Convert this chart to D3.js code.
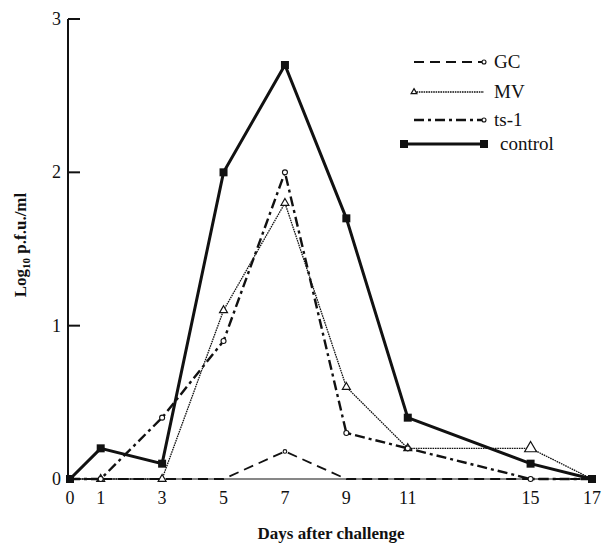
<!DOCTYPE html>
<html>
<head>
<meta charset="utf-8">
<script src="https://cdn.jsdelivr.net/npm/d3@7"></script>
<style>
  body { margin: 0; background: #fff; }
  text { font-family: "Liberation Serif", "DejaVu Serif", serif; fill: #111; }
</style>
</head>
<body>
<script>
const width = 604;
const height = 544;

const days = [0, 1, 3, 5, 7, 9, 11, 15, 17];
const yTicks = [1, 2, 3];

const gc      = [0, 0, 0, 0, 0.18, 0, 0, 0, 0];
const mv      = [0, 0, 0, 1.1, 1.8, 0.6, 0.2, 0.2, 0];
const ts1     = [0, 0, 0.4, 0.9, 2.0, 0.3, 0.2, 0, 0];
const control = [0, 0.2, 0.1, 2.0, 2.7, 1.7, 0.4, 0.1, 0];

const series = [
    { name: "GC", values: gc, dash: "10,6", w: 1.8, marker: "circle", r: 1.8 },
    { name: "MV", values: mv, dash: "1.6,0.8", w: 1.3, marker: "triangle", r: 3 },
    { name: "ts-1", values: ts1, dash: "10,4,3,4", w: 2.4, marker: "circle", r: 2.5 },
    { name: "control", values: control, dash: null, w: 3, marker: "square", r: 4 }
];

const svg = d3.select("body").append("svg")
    .attr("width", width)
    .attr("height", height);

const x = d3.scaleLinear().domain([0, 17]).range([70, 592]);
const y = d3.scaleLinear().domain([0, 3]).range([479, 19]);

// axes
svg.append("line")
    .attr("x1", x(0) - 2).attr("x2", x(0) - 2)
    .attr("y1", y(3)).attr("y2", y(0))
    .style("stroke", "#111").style("stroke-width", 2);

svg.append("line")
    .attr("x1", x(0) - 2).attr("x2", x(17))
    .attr("y1", y(0)).attr("y2", y(0))
    .style("stroke", "#111").style("stroke-width", 1.2);

svg.selectAll(".ytick")
    .data(yTicks)
    .enter().append("line")
    .attr("x1", x(0) - 2).attr("x2", x(0) + 10)
    .attr("y1", d => y(d)).attr("y2", d => y(d))
    .style("stroke", "#111").style("stroke-width", 2);

svg.selectAll(".ylab")
    .data([0].concat(yTicks))
    .enter().append("text")
    .attr("x", x(0) - 9)
    .attr("y", d => y(d) + 6)
    .attr("text-anchor", "end")
    .style("font-size", "18px")
    .text(d => d);

svg.selectAll(".xlab")
    .data(days)
    .enter().append("text")
    .attr("x", d => x(d))
    .attr("y", 504)
    .attr("text-anchor", "middle")
    .style("font-size", "18px")
    .text(d => d);

svg.append("text")
    .attr("x", (x(0) + x(17)) / 2)
    .attr("y", 539)
    .attr("text-anchor", "middle")
    .style("font-size", "17px")
    .style("font-weight", "bold")
    .text("Days after challenge");

const yt = svg.append("text")
    .attr("transform", "translate(26," + 245 + ") rotate(-90)")
    .attr("text-anchor", "middle")
    .style("font-size", "17px")
    .style("font-weight", "bold");
yt.append("tspan").text("Log");
yt.append("tspan").attr("dy", 4).style("font-size", "11px").text("10");
yt.append("tspan").attr("dy", -4).text(" p.f.u./ml");

// lines
const line = d3.line()
    .x(d => x(d[0]))
    .y(d => y(d[1]));

function drawMarker(g, type, cx, cy, r) {
    if (type === "square") {
        g.append("rect")
            .attr("x", cx - r).attr("y", cy - r)
            .attr("width", 2 * r).attr("height", 2 * r)
            .style("fill", "#111");
    } else if (type === "triangle") {
        g.append("path")
            .attr("d", d3.symbol().type(d3.symbolTriangle).size(r * r * 3)())
            .attr("transform", "translate(" + cx + "," + cy + ")")
            .style("fill", "#fff").style("stroke", "#111").style("stroke-width", 1.2);
    } else {
        g.append("circle")
            .attr("cx", cx).attr("cy", cy).attr("r", r)
            .style("fill", "#fff").style("stroke", "#111").style("stroke-width", 1.1);
    }
}

series.forEach(s => {
    const pts = days.map((d, i) => [d, s.values[i]]);
    svg.append("path")
        .attr("d", line(pts))
        .style("fill", "none")
        .style("stroke", "#111")
        .style("stroke-width", s.w)
        .style("stroke-dasharray", s.dash);
});

series.forEach(s => {
    const g = svg.append("g");
    days.forEach((d, i) => {
        if (s.values[i] === 0 && s.marker !== "square" && d !== 15 && d !== 1 && d !== 3) return;
        const r = (s.name === "MV" && d === 15) ? 4.5 : s.r;
        drawMarker(g, s.marker, x(d), y(s.values[i]), r);
    });
});

// legend
const legY = [62, 92, 120, 144];
const leg = svg.append("g");
series.forEach((s, i) => {
    const x1 = s.name === "control" ? 404 : 414;
    const x2 = 484;
    leg.append("line")
        .attr("x1", x1).attr("x2", x2)
        .attr("y1", legY[i]).attr("y2", legY[i])
        .style("stroke", "#111")
        .style("stroke-width", s.w)
        .style("stroke-dasharray", s.dash);
    if (s.marker === "square") {
        drawMarker(leg, "square", x1, legY[i], 4);
        drawMarker(leg, "square", x2, legY[i], 4);
    } else if (s.marker === "triangle") {
        drawMarker(leg, "triangle", x1, legY[i], 2.2);
    } else {
        drawMarker(leg, "circle", x2, legY[i], 2);
    }
    leg.append("text")
        .attr("x", s.name === "control" ? 500 : 494)
        .attr("y", legY[i] + 6)
        .style("font-size", "19px")
        .text(s.name);
});
</script>
</body>
</html>
